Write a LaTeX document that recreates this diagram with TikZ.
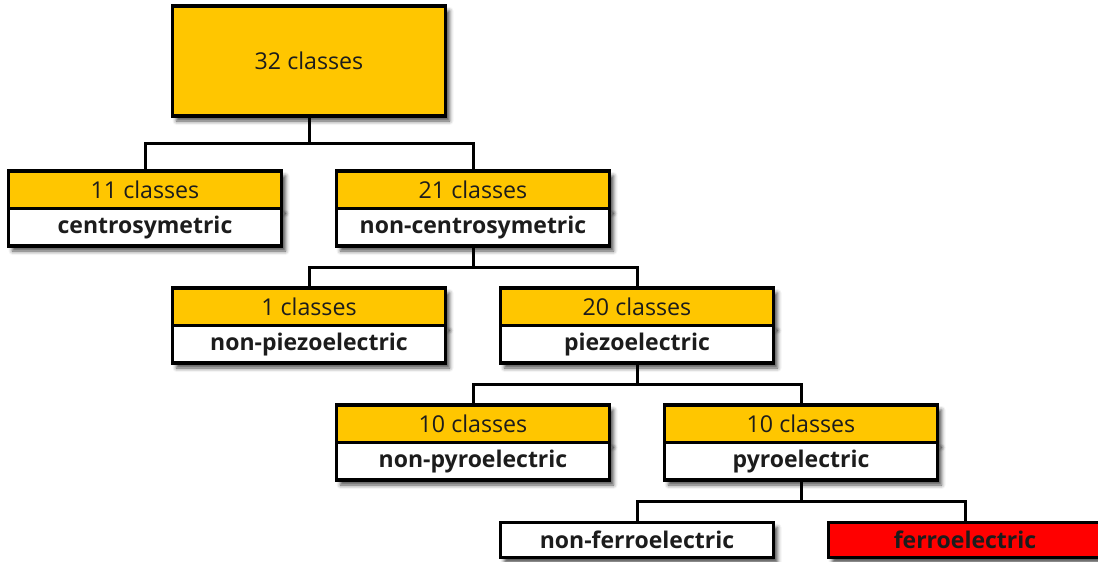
\documentclass[tikz,border=0pt]{standalone}
\usepackage{fontspec}
\setmainfont{Open Sans}
\usetikzlibrary{positioning,calc,shadows.blur}
\definecolor{cyel}{HTML}{FFC600}
\definecolor{cferro}{HTML}{FF0000}
\definecolor{ctext}{HTML}{1C1C1C}
\tikzset{
  box/.style={draw=black, line width=3.2pt, minimum width=273pt, outer sep=0pt, inner sep=0pt,
    font=\fontsize{23.2}{26}\selectfont, text=ctext,
    blur shadow={shadow xshift=4pt, shadow yshift=-5pt, shadow blur radius=4pt, shadow opacity=70}},
  cls/.style={box, fill=cyel, minimum height=37.5pt},
  kind/.style={box, fill=white, minimum height=37.5pt, font=\fontsize{23}{26}\selectfont\bfseries},
  topn/.style={box, fill=cyel, minimum height=110pt},
  ferro/.style={kind, fill=cferro, minimum height=35pt},
  conn/.style={line width=3pt},
}
\begin{document}
\begin{tikzpicture}[x=1pt,y=1pt]
\useasboundingbox (0,0) rectangle (1098,-562);
% root
\node[topn] (all) at (309,-61) {32 classes};
% level 1
\node[cls] (c11) at (145,-189.75) {11 classes};
\node[kind, below=0pt of c11] (centro) {centrosymetric};
\node[cls] (c21) at (473,-189.75) {21 classes};
\node[kind, below=0pt of c21] (noncentro) {non-centrosymetric};
% level 2
\node[cls] (c1) at (309,-306.75) {1 classes};
\node[kind, below=0pt of c1] (nonpiezo) {non-piezoelectric};
\node[cls] (c20) at (637,-306.75) {20 classes};
\node[kind, below=0pt of c20] (piezo) {piezoelectric};
% level 3
\node[cls] (c10a) at (473,-423.75) {10 classes};
\node[kind, below=0pt of c10a] (nonpyro) {non-pyroelectric};
\node[cls] (c10b) at (801,-423.75) {10 classes};
\node[kind, below=0pt of c10b] (pyro) {pyroelectric};
% level 4
\node[kind, minimum height=35pt] (nonferro) at (637,-540) {non-ferroelectric};
\node[ferro] (fe) at (965,-540) {ferroelectric};
% connectors
\draw[conn] (all.south) -- ++(0,-27.5) -| (c11.north);
\draw[conn] (all.south) -- ++(0,-27.5) -| (c21.north);
\draw[conn] (noncentro.south) -- ++(0,-21) -| (c1.north);
\draw[conn] (noncentro.south) -- ++(0,-21) -| (c20.north);
\draw[conn] (piezo.south) -- ++(0,-21) -| (c10a.north);
\draw[conn] (piezo.south) -- ++(0,-21) -| (c10b.north);
\draw[conn] (pyro.south) -- ++(0,-21) -| (nonferro.north);
\draw[conn] (pyro.south) -- ++(0,-21) -| (fe.north);
\end{tikzpicture}
\end{document}
